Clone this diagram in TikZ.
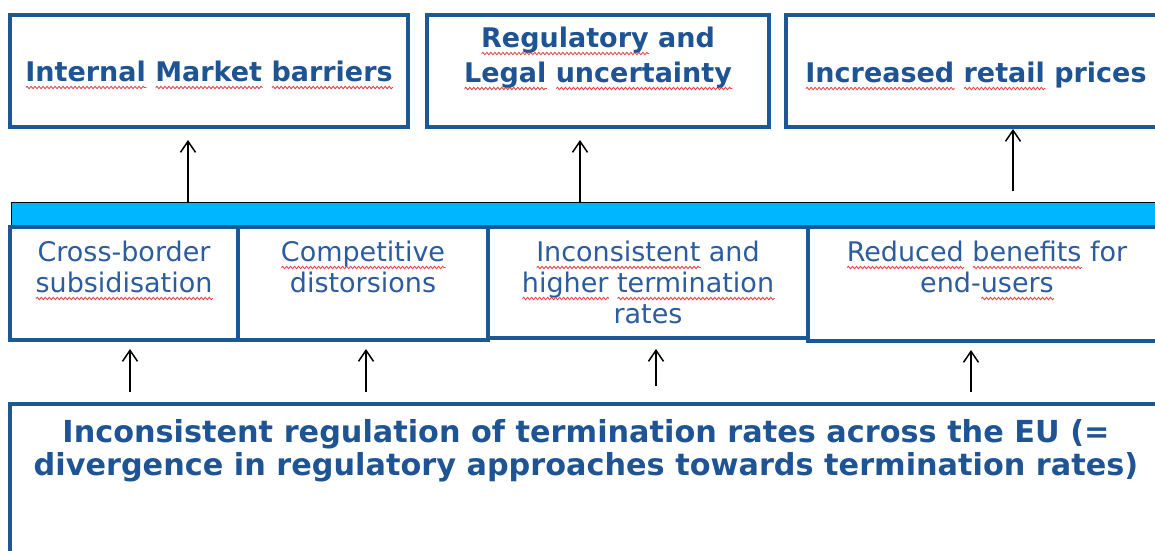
\documentclass[tikz,border=0pt]{standalone}
\usepackage{fontspec}
\setmainfont{DejaVu Sans}
\usetikzlibrary{arrows.meta,decorations.pathmorphing}

\definecolor{frameblue}{RGB}{28,88,150}
\definecolor{textblue}{RGB}{30,84,148}
\definecolor{midblue}{RGB}{44,92,158}
\definecolor{barcyan}{RGB}{0,182,255}
\definecolor{splred}{RGB}{235,70,70}

% red wavy underline under single words
\newsavebox\splbox
\newcommand\spl[1]{\sbox\splbox{#1}\leavevmode\rlap{\tikz[baseline=0pt,x=1pt,y=1pt]
  \draw[splred,line width=0.9pt,decorate,decoration={snake,amplitude=1.2pt,segment length=4pt}]
  (0pt,-6.5pt) -- (\the\wd\splbox,-6.5pt);}\usebox\splbox}

\begin{document}
\begin{tikzpicture}[x=1pt,y=-1pt,
  box/.style={draw=frameblue, line width=4.2pt, fill=white, inner sep=0pt},
  % text nodes are placed by the baseline of their last line
  toptext/.style={anchor=base, align=center, inner sep=0pt, text=textblue,
    font=\fontsize{27}{35}\selectfont\bfseries},
  midtext/.style={anchor=base, align=center, inner sep=0pt, text=midblue,
    font=\fontsize{27}{31}\selectfont},
  bottext/.style={anchor=base, align=center, inner sep=0pt, text=textblue,
    font=\fontsize{30.3}{33}\selectfont\bfseries},
  arr/.style={-{Straight Barb[length=11pt,width=15pt,line width=1.5pt]}, line width=1.6pt, black}]

\useasboundingbox (0,0) rectangle (1155,550);
\clip (0,0) rectangle (1155,550);

% top row: consequences
\node[box, minimum width=398pt, minimum height=112pt] (t1) at (209,71) {};
\node[box, minimum width=342pt, minimum height=112pt] (t2) at (598,71) {};
\node[box, minimum width=380pt, minimum height=112pt] (t3) at (976,71) {};

\node[toptext] (t1l) at (209,81) {\spl{Internal} \spl{Market} \spl{barriers}};
\node[toptext] (t2l) at (598,82) {\spl{Regulatory} and\\\spl{Legal} \spl{uncertainty}};
\node[toptext] (t3l) at (976,82) {\spl{Increased} \spl{retail} prices};

% cyan band
\node[draw=black, line width=1pt, fill=barcyan, minimum width=1170pt, minimum height=23pt,
  inner sep=0pt, anchor=north west] (bar) at (11,202) {};

% middle row: effects
\node[box, minimum width=228pt, minimum height=113pt] (m1) at (124,283.5) {};
\node[box, minimum width=250pt, minimum height=113pt] (m2) at (363,283.5) {};
\node[box, minimum width=320pt, minimum height=111pt] (m3) at (648,282.5) {};
\node[box, minimum width=358pt, minimum height=114pt] (m4) at (987,284) {};

\node[midtext] (m1l) at (124,292) {Cross-border\\\spl{subsidisation}};
\node[midtext] (m2l) at (363,292) {\spl{Competitive}\\distorsions};
\node[midtext] (m3l) at (648,323) {\spl{Inconsistent} and\\\spl{higher} \spl{termination}\\rates};
\node[midtext] (m4l) at (987,292) {\spl{Reduced} \spl{benefits} for\\end-\spl{users}};

% bottom: the problem
\node[box, line width=3.5pt, minimum width=1152pt, minimum height=196pt] (bot) at (586,502) {};
\node[bottext] (botl) at (586,475) {Inconsistent regulation of termination rates across the EU (=\\divergence in regulatory approaches towards termination rates)};

% connector end points
\coordinate (a1s) at (188,202); \coordinate (a1e) at (188,140);
\coordinate (a2s) at (580,202); \coordinate (a2e) at (580,140);
\coordinate (a3s) at (1013,191); \coordinate (a3e) at (1013,129);
\coordinate (b1s) at (130,392); \coordinate (b1e) at (130,349);
\coordinate (b2s) at (366,392); \coordinate (b2e) at (366,349);
\coordinate (b3s) at (656,386); \coordinate (b3e) at (656,349);
\coordinate (b4s) at (971,392); \coordinate (b4e) at (971,350);

\draw[arr] (a1s) -- (a1e);
\draw[arr] (a2s) -- (a2e);
\draw[arr] (a3s) -- (a3e);
\draw[arr] (b1s) -- (b1e);
\draw[arr] (b2s) -- (b2e);
\draw[arr] (b3s) -- (b3e);
\draw[arr] (b4s) -- (b4e);
\end{tikzpicture}
\end{document}
